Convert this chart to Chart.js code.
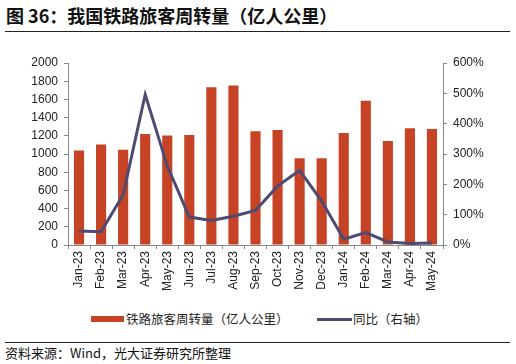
<!DOCTYPE html>
<html>
<head>
<meta charset="utf-8">
<script src="https://cdn.jsdelivr.net/npm/chart.js@4"></script>
<style>
  body { margin: 0; width: 516px; height: 364px; background: #fff; position: relative; overflow: hidden; font-family: "Noto Sans CJK SC", sans-serif; }
  #title { position: absolute; left: 6px; top: 2px; font-size: 18px; font-weight: bold; color: #111; white-space: nowrap; }
  #rule1 { position: absolute; left: 5px; top: 31px; width: 505px; height: 1px; background: #222; }
  #rule2 { position: absolute; left: 5px; top: 342px; width: 505px; height: 1px; background: #222; }
  #source { position: absolute; left: 5px; top: 343px; font-size: 13px; color: #111; white-space: nowrap; }
  #wrap { position: absolute; left: 0; top: 0; width: 516px; height: 300px; }
  .lg { position: absolute; font-size: 12.5px; color: #222; white-space: nowrap; line-height: 16px; }
</style>
</head>
<body>
<div id="title">图 36：我国铁路旅客周转量（亿人公里）</div>
<div id="rule1"></div>
<div id="wrap"><canvas id="myChart"></canvas></div>
<div style="position:absolute;left:91px;top:316px;width:33px;height:6px;background:#C64325"></div>
<div class="lg" style="left:126px;top:311px">铁路旅客周转量（亿人公里）</div>
<div style="position:absolute;left:317px;top:318px;width:35px;height:3px;background:#4E4B73"></div>
<div class="lg" style="left:353px;top:311px">同比（右轴）</div>
<div id="rule2"></div>
<div id="source">资料来源：Wind，光大证券研究所整理</div>
<script>
var labels = ['Jan-23', 'Feb-23', 'Mar-23', 'Apr-23', 'May-23', 'Jun-23', 'Jul-23', 'Aug-23', 'Sep-23', 'Oct-23', 'Nov-23', 'Dec-23', 'Jan-24', 'Feb-24', 'Mar-24', 'Apr-24', 'May-24'];
var volume = [1038, 1104, 1046, 1220, 1202, 1209, 1734, 1752, 1250, 1264, 954, 954, 1231, 1585, 1144, 1282, 1275];
var yoy = [46, 44, 166, 496, 261, 92, 81, 95, 114, 194, 246, 145, 19, 41, 10, 5, 7];

var axisFont = { family: 'Liberation Sans', size: 12 };
var axisColor = '#888888';

var ctx = document.getElementById('myChart').getContext('2d');
var myChart = new Chart(ctx, {
    type: 'bar',
    data: {
        labels: labels,
        datasets: [
            {
                type: 'line',
                label: '同比（右轴）',
                data: yoy,
                yAxisID: 'y1',
                borderColor: '#4E4B73',
                backgroundColor: '#4E4B73',
                borderWidth: 3,
                pointRadius: 0,
                tension: 0,
                order: 0
            },
            {
                label: '铁路旅客周转量（亿人公里）',
                data: volume,
                yAxisID: 'y',
                backgroundColor: '#C64325',
                categoryPercentage: 1,
                barPercentage: 0.46,
                order: 1
            }
        ]
    },
    options: {
        responsive: true,
        maintainAspectRatio: false,
        animation: false,
        layout: { padding: { top: 63, left: 0, right: 0, bottom: 0 } },
        plugins: { legend: { display: false }, tooltip: { enabled: false } },
        scales: {
            x: {
                grid: { drawOnChartArea: false, tickLength: 4, color: axisColor },
                border: { color: axisColor },
                ticks: { font: axisFont, color: '#222', maxRotation: 90, minRotation: 90, padding: 2 },
                afterFit: function (s) { s.height = 55; }
            },
            y: {
                position: 'left',
                min: 0, max: 2000,
                grid: { drawOnChartArea: false, tickLength: 4, color: axisColor },
                border: { color: axisColor },
                ticks: { stepSize: 200, font: axisFont, color: '#222', padding: 6,
                    callback: function (v) { return String(v); } },
                afterFit: function (s) { s.width = 68; }
            },
            y1: {
                position: 'right',
                min: 0, max: 600,
                grid: { drawOnChartArea: false, tickLength: 4, color: axisColor },
                border: { color: axisColor },
                ticks: { stepSize: 100, font: axisFont, color: '#222', padding: 6,
                    callback: function (v) { return v + '%'; } },
                afterFit: function (s) { s.width = 73; }
            }
        }
    }
});
</script>
</body>
</html>
